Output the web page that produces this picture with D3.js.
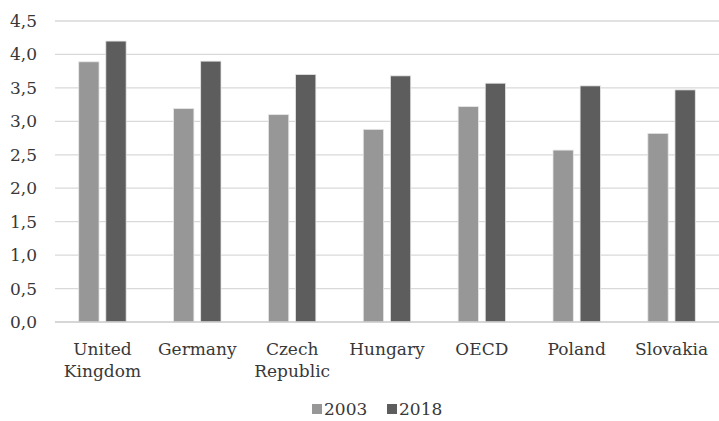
<!DOCTYPE html>
<html>
<head>
<meta charset="utf-8">
<script src="https://cdn.jsdelivr.net/npm/d3@7"></script>
<style>
  body { margin: 0; background: #fff; }
  svg text { font-family: "DejaVu Serif", serif; fill: #383838; }
</style>
</head>
<body>
<div id="chart"></div>
<script>
var categories = [["United", "Kingdom"], ["Germany"], ["Czech", "Republic"], ["Hungary"], ["OECD"], ["Poland"], ["Slovakia"]];
var seriesNames = ["2003", "2018"];
var values2003 = [3.89, 3.19, 3.10, 2.88, 3.22, 2.57, 2.82];
var values2018 = [4.20, 3.90, 3.70, 3.68, 3.57, 3.53, 3.47];
var yTicks = [0, 0.5, 1, 1.5, 2, 2.5, 3, 3.5, 4, 4.5];

var colors = ["#979797", "#5d5d5d"];
var width = 719, height = 421;
var margin = {top: 21, right: 0, bottom: 99, left: 55};

var svg = d3.select("#chart").append("svg")
    .attr("width", width).attr("height", height);

var x = d3.scaleBand()
    .domain(d3.range(categories.length))
    .range([margin.left, width - margin.right])
    .paddingInner(0).paddingOuter(0);

var x1 = d3.scaleBand()
    .domain([0, 1])
    .range([x.bandwidth() * 0.25, x.bandwidth() * 0.75])
    .paddingInner(0.25);

var y = d3.scaleLinear()
    .domain([0, 4.5])
    .range([height - margin.bottom, margin.top]);

// gridlines
svg.append("g").selectAll("line")
    .data(yTicks.filter(function(d){ return d > 0; }))
    .enter().append("line")
    .attr("x1", margin.left).attr("x2", width - margin.right)
    .attr("y1", function(d){ return y(d); })
    .attr("y2", function(d){ return y(d); })
    .attr("stroke", "#d9d9d9").attr("stroke-width", 1.3);

// y labels
var yAxis = d3.axisLeft(y)
    .tickValues(yTicks)
    .tickSize(0)
    .tickPadding(0)
    .tickFormat(function(d){ return d3.format(".1f")(d).replace(".", ","); });

var ya = svg.append("g")
    .attr("transform", "translate(37,0)")
    .call(yAxis);
ya.select(".domain").remove();
ya.selectAll("text").style("font-size", "17px").attr("fill", "#383838");

// bars
var series = [values2003, values2018];
series.forEach(function(vals, s){
    svg.append("g").selectAll("rect")
        .data(vals)
        .enter().append("rect")
        .attr("x", function(d, i){ return x(i) + x1(s); })
        .attr("y", function(d){ return y(d); })
        .attr("width", x1.bandwidth())
        .attr("height", function(d){ return y(0) - y(d); })
        .attr("fill", colors[s])
        .attr("stroke", "#e6e6e6").attr("stroke-width", 0.8);
});

// baseline
svg.append("line")
    .attr("x1", margin.left).attr("x2", width - margin.right)
    .attr("y1", y(0)).attr("y2", y(0))
    .attr("stroke", "#c8c8c8").attr("stroke-width", 1.3);

// category labels
var cat = svg.append("g").selectAll("text")
    .data(categories)
    .enter().append("text")
    .attr("text-anchor", "middle")
    .style("font-size", "17px")
    .attr("x", function(d, i){ return x(i) + x.bandwidth() / 2; })
    .attr("y", 355);
cat.selectAll("tspan")
    .data(function(d){ return d; })
    .enter().append("tspan")
    .attr("x", function(){ return d3.select(this.parentNode).attr("x"); })
    .attr("dy", function(d, i){ return i === 0 ? 0 : 22; })
    .text(function(d){ return d; });

// legend
var legend = svg.append("g");
var lx = [312, 387];
seriesNames.forEach(function(name, s){
    legend.append("rect")
        .attr("x", lx[s]).attr("y", 404)
        .attr("width", 10).attr("height", 10)
        .attr("fill", colors[s]);
    legend.append("text")
        .attr("x", lx[s] + 12).attr("y", 415)
        .style("font-size", "17px")
        .text(name);
});
</script>
</body>
</html>
